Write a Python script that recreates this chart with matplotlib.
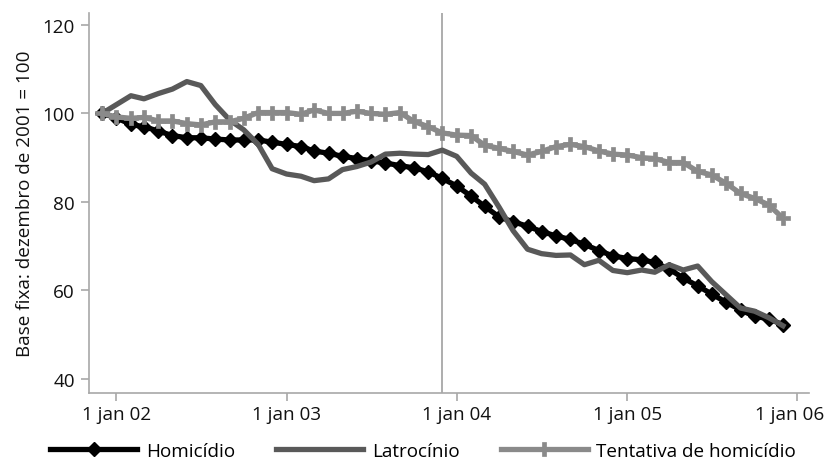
import matplotlib
matplotlib.use("Agg")
import matplotlib.pyplot as plt
import matplotlib.transforms as mtransforms
import pandas as pd
import numpy as np

plt.rcParams['font.family'] = ['Open Sans', 'DejaVu Sans']

months = pd.date_range("2001-12-01", "2005-12-01", freq="MS")

homicidio = [100, 99, 97.5, 97, 96, 95, 94.5, 94.5, 94.2, 94, 94, 94,
             93.5, 93, 92.5, 91.5, 91, 90.3, 89.8, 89.3, 88.8, 88.2, 87.7, 86.8,
             85.3, 83.6, 81.3, 79, 76.6, 75.5, 74.5, 73.3, 72.3, 71.5, 70.4, 69,
             67.8, 67.2, 66.9, 66.3, 64.8, 62.8, 61, 59.2, 57.3, 55.6, 54.1, 53.6,
             52.2]
latrocinio = [100, 102, 104, 103.3, 104.5, 105.5, 107.2, 106.3, 102, 98.5, 96.3, 93,
              87.5, 86.3, 85.8, 84.8, 85.2, 87.3, 88, 89, 90.8, 91, 90.8, 90.7,
              91.7, 90.3, 86.5, 84, 78.8, 73.5, 69.3, 68.3, 67.9, 68, 65.8, 66.8,
              64.5, 64, 64.6, 64.1, 65.8, 64.6, 65.5, 62, 59, 56, 55.3, 53.8,
              52]
tentativa = [100, 99.2, 98.9, 99.1, 98.3, 98.3, 97.7, 97.4, 98.1, 98.1, 98.9, 100.2,
             100.2, 100.2, 99.8, 100.8, 100, 100, 100.5, 100, 99.8, 100.2, 98.2, 97,
             95.6, 95.1, 95, 92.8, 92.1, 91.4, 90.6, 91.4, 92.5, 93, 92.5, 91.5,
             90.8, 90.6, 90, 89.8, 88.9, 88.9, 86.9, 86.1, 84.2, 81.9, 80.8, 79.3,
             76.3]

series_names = ["Homicídio", "Latrocínio", "Tentativa de homicídio"]
tick_dates = pd.to_datetime(["2002-01-01", "2003-01-01", "2004-01-01", "2005-01-01", "2006-01-01"])
tick_labels = ["1 jan 02", "1 jan 03", "1 jan 04", "1 jan 05", "1 jan 06"]
y_ticks = [40, 60, 80, 100, 120]
ref_date = pd.Timestamp("2003-12-01")
ylabel = "Base fixa: dezembro de 2001 = 100"

FS = 13.6

fig = plt.figure(figsize=(8.3, 4.64), dpi=100)
ax = fig.add_axes([0.1072, 0.1509, 0.8681, 0.8189])

ax.axvline(ref_date, color="#a0a0a0", lw=1.2, zorder=1)

ax.plot(months, homicidio, color="#000000", lw=3.8, marker="D", ms=6.8,
        mec="#000000", mfc="#000000", label=series_names[0], zorder=3)
ax.plot(months, latrocinio, color="#595959", lw=3.8, label=series_names[1], zorder=4)
ax.plot(months, tentativa, color="#8a8a8a", lw=3.8, marker="P", ms=10.5,
        mec="#8a8a8a", mfc="#8a8a8a", mew=0.5, label=series_names[2], zorder=5)

ax.set_xlim(pd.Timestamp("2001-11-03"), pd.Timestamp("2006-01-27"))
ax.set_ylim(36.8, 122.7)
ax.set_xticks(tick_dates)
ax.set_xticklabels(tick_labels)
ax.set_yticks(y_ticks)

for s in ["top", "right"]:
    ax.spines[s].set_visible(False)
for s in ["left", "bottom"]:
    ax.spines[s].set_color("#a8a8a8")
    ax.spines[s].set_linewidth(1.2)
ax.tick_params(axis="both", colors="#a8a8a8", labelcolor="#111111", labelsize=FS,
               length=6, width=1.2, direction="out")
ax.tick_params(axis="x", pad=3)
ax.tick_params(axis="y", pad=4)

# shift the last x tick label slightly left so it stays inside the figure
last = ax.get_xticklabels()[-1]
offset = mtransforms.ScaledTranslation(-8 / 100, 0, fig.dpi_scale_trans)
last.set_transform(last.get_transform() + offset)

ax.set_ylabel(ylabel, fontsize=FS, color="#111111", labelpad=6)

fig.legend(loc="center", bbox_to_anchor=(0.51, 0.026), ncol=3, frameon=False,
           fontsize=FS, handlelength=4.6, handletextpad=0.45, columnspacing=2.2,
           borderaxespad=0)

fig.savefig("out.png", dpi=100)
